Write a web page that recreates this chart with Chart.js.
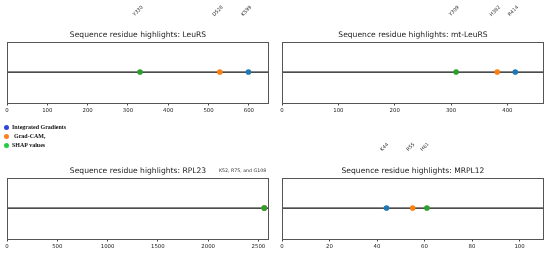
<!DOCTYPE html>
<html>
<head>
<meta charset="utf-8">
<script src="https://cdn.jsdelivr.net/npm/chart.js@4/dist/chart.umd.min.js"></script>
<style>
  html, body { margin: 0; padding: 0; background: #fff; }
  #wrap { position: relative; width: 550px; height: 258px; overflow: hidden; background: #fff; }
  .cv { position: absolute; }
  #legend { position: absolute; left: 3px; top: 123px; font-family: "Liberation Serif", serif; font-weight: bold; font-size: 6px; color: #111; }
  #legend div { position: relative; height: 9px; line-height: 9px; white-space: nowrap; }
  #legend span.dot { position: absolute; left: 1px; top: 2px; width: 5px; height: 5px; border-radius: 50%; }
</style>
</head>
<body>
<div id="wrap">
  <canvas id="c1" class="cv" width="275" height="116" style="left:0;top:0;"></canvas>
  <canvas id="c2" class="cv" width="275" height="116" style="left:275px;top:0;"></canvas>
  <canvas id="c3" class="cv" width="275" height="116" style="left:0;top:136px;"></canvas>
  <canvas id="c4" class="cv" width="275" height="116" style="left:275px;top:136px;"></canvas>
  <div id="legend"></div>
</div>
<script>
// ---- data ----
const seriesNames = ['Integrated Gradients', 'Grad-CAM,', 'SHAP values'];
const seriesColors = ['#1f77b4', '#ff7f0e', '#2ca02c'];
const legendColors = ['#3344dd', '#ff7f27', '#22cc44'];

const panelTitles = ['Sequence residue highlights: LeuRS', 'Sequence residue highlights: mt-LeuRS',
                     'Sequence residue highlights: RPL23', 'Sequence residue highlights: MRPL12'];

// residue positions per series [Integrated Gradients, Grad-CAM, SHAP]
const leuRSPos = [599, 528, 330];
const leuRSLabels = ['K599', 'D528', 'Y330'];
const mtLeuRSPos = [414, 382, 309];
const mtLeuRSLabels = ['R414', 'H382', 'Y309'];
const rpl23Pos = [2558, 2558, 2558];
const rpl23Labels = [];
const rpl23Note = 'K52, R75, and G108';
const mrpl12Pos = [44, 55, 61];
const mrpl12Labels = ['K44', 'R55', 'H61'];

const axisMax = [650, 465, 2605, 110.3];
const leuRSTicks = [0, 100, 200, 300, 400, 500, 600];
const mtLeuRSTicks = [0, 100, 200, 300, 400];
const rpl23Ticks = [0, 500, 1000, 1500, 2000, 2500];
const mrpl12Ticks = [0, 20, 40, 60, 80, 100];

// ---- legend ----
const lg = document.getElementById('legend');
const legendIndent = [9, 11, 9];
seriesNames.forEach((n, i) => {
  const d = document.createElement('div');
  const s = document.createElement('span');
  s.className = 'dot'; s.style.background = legendColors[i];
  d.appendChild(s);
  const t = document.createElement('span');
  t.textContent = n; t.style.marginLeft = legendIndent[i] + 'px';
  d.appendChild(t);
  lg.appendChild(d);
});

// ---- charts ----
const boxPlugin = {
  id: 'boxAndLabels',
  afterDraw(chart, args, opts) {
    const ctx = chart.ctx, a = chart.chartArea, xs = chart.scales.x;
    ctx.save();
    ctx.strokeStyle = '#555';
    ctx.lineWidth = 1;
    ctx.strokeRect(Math.round(a.left) + 0.5, Math.round(a.top) + 0.5, Math.round(a.right - a.left) - 1, Math.round(a.bottom - a.top));
    ctx.fillStyle = '#333';
    ctx.font = '4.8px "DejaVu Sans"';
    ctx.textAlign = 'center';
    ctx.textBaseline = 'middle';
    (opts.labels || []).forEach((lab, i) => {
      const px = xs.getPixelForValue(opts.pos[i]) - 2;
      ctx.save();
      ctx.translate(px, 11);
      ctx.rotate(-Math.PI / 4);
      ctx.fillText(lab, 0, 0);
      ctx.restore();
    });
    if (opts.note) {
      ctx.font = '4.7px "DejaVu Sans"';
      ctx.textAlign = 'left';
      ctx.fillText(opts.note, 219, 35);
    }
    ctx.restore();
  }
};

function makeChart(id, title, pos, labels, max, ticks, note) {
  const datasets = [{
    type: 'line',
    data: [{x: 0, y: 0}, {x: max, y: 0}],
    borderColor: '#111', borderWidth: 1.3, pointRadius: 0, order: 10
  }];
  pos.forEach((v, i) => {
    datasets.push({
      type: 'scatter',
      label: seriesNames[i],
      data: [{x: v, y: 0}],
      backgroundColor: seriesColors[i], borderColor: seriesColors[i],
      pointRadius: 2.8, pointBorderWidth: 0, order: 3 - i
    });
  });
  return new Chart(document.getElementById(id), {
    data: { datasets },
    options: {
      responsive: false, animation: false,
      layout: { padding: { top: 30, left: 7, right: 6, bottom: 0 } },
      plugins: {
        legend: { display: false }, tooltip: { enabled: false },
        title: { display: true, text: title, color: '#222', font: { family: 'DejaVu Sans', size: 7.6, weight: 'normal' }, padding: { top: 0, bottom: 2.5 } },
        boxAndLabels: { labels, pos, note }
      },
      scales: {
        x: {
          type: 'linear', min: 0, max: max,
          afterBuildTicks: (s) => { s.ticks = ticks.map(v => ({ value: v })); },
          grid: { drawOnChartArea: false, drawTicks: true, tickLength: 3, color: '#444' },
          border: { display: false },
          ticks: { color: '#222', font: { family: 'DejaVu Sans', size: 5.4 }, padding: 2, maxRotation: 0, autoSkip: false,
                   callback: (v) => String(v) }
        },
        y: { display: false, min: -1, max: 1 }
      }
    },
    plugins: [boxPlugin]
  });
}

makeChart('c1', panelTitles[0], leuRSPos, leuRSLabels, axisMax[0], leuRSTicks);
makeChart('c2', panelTitles[1], mtLeuRSPos, mtLeuRSLabels, axisMax[1], mtLeuRSTicks);
makeChart('c3', panelTitles[2], rpl23Pos, rpl23Labels, axisMax[2], rpl23Ticks, rpl23Note);
makeChart('c4', panelTitles[3], mrpl12Pos, mrpl12Labels, axisMax[3], mrpl12Ticks);
</script>
</body>
</html>
